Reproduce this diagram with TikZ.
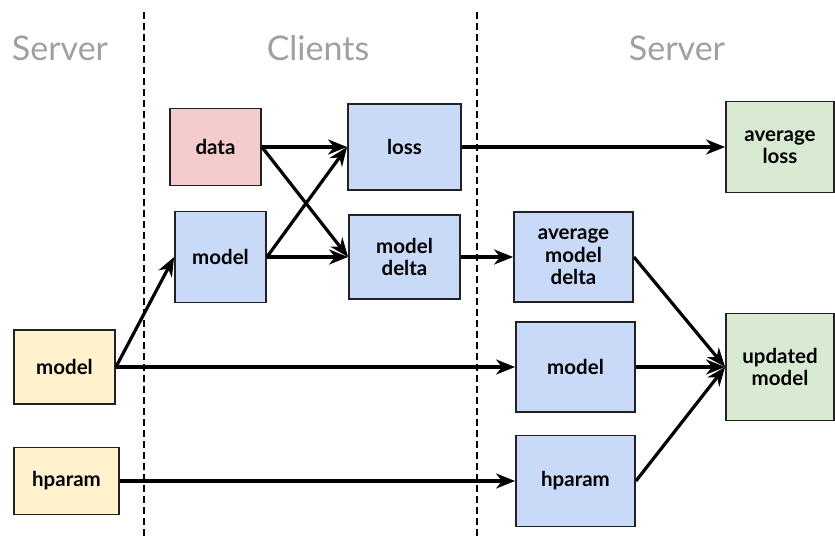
\documentclass[tikz,border=0pt]{standalone}
\usepackage{fontspec}
\setmainfont{Lato}
\usetikzlibrary{arrows.meta}

\definecolor{datapink}{HTML}{F4CCCC}
\definecolor{clientblue}{HTML}{C9DAF8}
\definecolor{resultgreen}{HTML}{D9EAD3}
\definecolor{inputyellow}{HTML}{FFF2CC}
\definecolor{headgray}{HTML}{A0A0A0}
\definecolor{edgegray}{HTML}{222222}

\tikzset{
  box/.style={draw=edgegray, line width=1.8pt, inner sep=2pt, align=center,
    font=\bfseries\fontsize{20.5}{22.5}\selectfont},
  flow/.style={line width=3.2pt, -{Stealth[length=19pt, width=15pt, inset=6pt]}},
  header/.style={text=headgray, font=\fontsize{34}{38}\selectfont},
  divider/.style={line width=1.4pt, dash pattern=on 7pt off 4pt}
}

\begin{document}
\begin{tikzpicture}[x=1pt, y=-1pt]
\useasboundingbox (0,0) rectangle (835,538);

% Column headers
\node[header] (hserverl) at (60,48) {Server};
\node[header] (hclients) at (318,48) {Clients};
\node[header] (hserverr) at (677,48) {Server};

% Dividers
\draw[divider] (144,12) -- (144,538);
\draw[divider] (477,12) -- (477,538);

% Server inputs
\node[box, fill=inputyellow, minimum width=101pt, minimum height=74pt] (ymodel) at (64.5,367) {model};
\node[box, fill=inputyellow, minimum width=105pt, minimum height=67pt] (yhparam) at (66.5,481) {hparam};

% Clients
\node[box, fill=datapink, minimum width=91pt, minimum height=77pt] (data) at (215.5,147) {data};
\node[box, fill=clientblue, minimum width=91pt, minimum height=91pt] (cmodel) at (220.5,257) {model};
\node[box, fill=clientblue, minimum width=113pt, minimum height=86pt] (loss) at (404.5,147) {loss};
\node[box, fill=clientblue, minimum width=111pt, minimum height=84pt] (delta) at (404.5,257) {model\\delta};

% Server aggregation
\node[box, fill=clientblue, minimum width=119pt, minimum height=90pt] (avgdelta) at (573.5,257) {average\\model\\delta};
\node[box, fill=clientblue, minimum width=119pt, minimum height=90pt] (smodel) at (575.5,367) {model};
\node[box, fill=clientblue, minimum width=119pt, minimum height=91pt] (shparam) at (575.5,481) {hparam};
\node[box, fill=resultgreen, minimum width=108pt, minimum height=91pt] (avgloss) at (780,147) {average\\loss};
\node[box, fill=resultgreen, minimum width=108pt, minimum height=107pt] (updated) at (780,367) {updated\\model};

% Connectors
\foreach \src/\dst in {data/loss, data/delta, cmodel/loss, cmodel/delta,
    ymodel/cmodel, loss/avgloss, delta/avgdelta, avgdelta/updated,
    smodel/updated, shparam/updated}
  \draw[flow] (\src.east) -- (\dst.west);
\draw[flow] (ymodel.east) -- (smodel.west);
\draw[flow] (yhparam.east) -- (shparam.west);

\end{tikzpicture}
\end{document}
